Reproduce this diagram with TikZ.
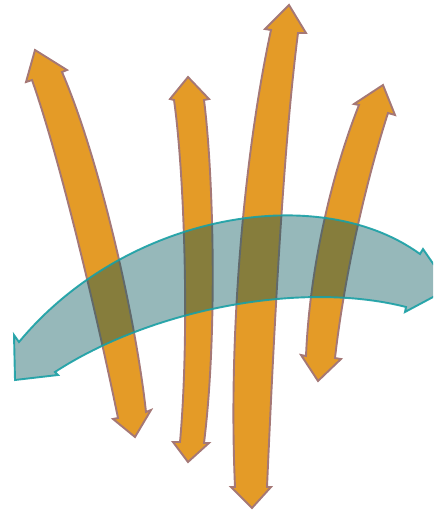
\documentclass[tikz,border=0pt]{standalone}
\usepackage{tikz}
\definecolor{flowfill}{RGB}{228,155,39}
\definecolor{flowline}{RGB}{165,120,118}
\definecolor{bandfill}{RGB}{5,85,90}
\definecolor{bandline}{RGB}{25,160,165}
\tikzset{
    flowarrow/.style={draw=flowline, fill=flowfill, line width=0.38mm, line join=miter},
    bandarrow/.style={draw=bandline, draw opacity=0.9, fill=bandfill, fill opacity=0.42, line width=0.38mm, line join=miter},
}

\begin{document}
\begin{tikzpicture}[x=0.2mm, y=-0.2mm]
    \useasboundingbox (0,0) rectangle (433,510);
    \clip (0,0) rectangle (433,510);
    % four arrows, up and down
    \draw[flowarrow] (35,50) -- (67,70) -- (62,72) .. controls (100,160) and (136,320) .. (146,412) -- (151,410) -- (135,437) -- (113,419) -- (118,418) .. controls (100,330) and (62,165) .. (32,80) -- (26,82) -- cycle;
    \draw[flowarrow] (188,77) -- (209,99) -- (204,100) .. controls (213,170) and (218,330) .. (204,443) -- (209,443) -- (188,462) -- (173,442) -- (180,442) .. controls (190,330) and (184,170) .. (174,100) -- (170,99) -- cycle;
    \draw[flowarrow] (289,5) -- (306,33) -- (298,33) .. controls (283,150) and (274,330) .. (267,487) -- (271,487) -- (252,508) -- (231,487) -- (235,487) .. controls (228,330) and (245,150) .. (271,30) -- (265,29) -- cycle;
    \draw[flowarrow] (383,85) -- (395,115) -- (388,113) .. controls (368,175) and (345,270) .. (335,358) -- (341,359) -- (318,381) -- (301,355) -- (306,356) .. controls (310,260) and (335,165) .. (359,105) -- (354,104) -- cycle;
    % band across them
    \draw[bandarrow] (19,342) .. controls (125,214) and (318,180) .. (420,254) -- (423,249) -- (450,288) -- (405,312) -- (406,307) .. controls (300,280) and (150,310) .. (55,372) -- (58,375) -- (15,380) -- (14,335) -- cycle;
\end{tikzpicture}
\end{document}
